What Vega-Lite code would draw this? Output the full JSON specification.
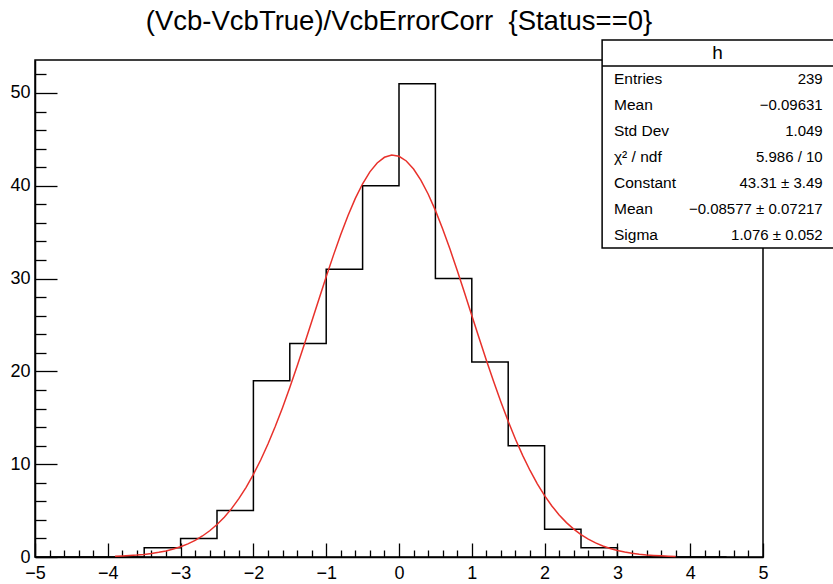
{
  "$schema": "https://vega.github.io/schema/vega-lite/v6.json",
  "width": 728,
  "height": 497,
  "autosize": {"type": "none"},
  "padding": {"left": 35, "top": 60, "right": 70, "bottom": 27},
  "background": "white",
  "title": {
    "text": "(Vcb-VcbTrue)/VcbErrorCorr \u00a0{Status==0}",
    "font": "Liberation Sans",
    "fontSize": 27.5,
    "fontWeight": "normal",
    "color": "black",
    "anchor": "middle",
    "offset": 4
  },
  "config": {
    "view": {"stroke": "black", "strokeWidth": 1.5},
    "axis": {
      "grid": false,
      "labelFont": "Liberation Sans",
      "labelFontSize": 18,
      "labelColor": "black",
      "labelFlush": false,
      "labelOverlap": false,
      "domainColor": "black",
      "domainWidth": 1.5,
      "tickColor": "black",
      "tickWidth": 1.3,
      "title": null
    }
  },
  "datasets": {
    "bins": [
      {"lo": -5.0, "hi": -4.5, "count": 0},
      {"lo": -4.5, "hi": -4.0, "count": 0},
      {"lo": -4.0, "hi": -3.5, "count": 0},
      {"lo": -3.5, "hi": -3.0, "count": 1},
      {"lo": -3.0, "hi": -2.5, "count": 2},
      {"lo": -2.5, "hi": -2.0, "count": 5},
      {"lo": -2.0, "hi": -1.5, "count": 19},
      {"lo": -1.5, "hi": -1.0, "count": 23},
      {"lo": -1.0, "hi": -0.5, "count": 31},
      {"lo": -0.5, "hi": 0.0, "count": 40},
      {"lo": 0.0, "hi": 0.5, "count": 51},
      {"lo": 0.5, "hi": 1.0, "count": 30},
      {"lo": 1.0, "hi": 1.5, "count": 21},
      {"lo": 1.5, "hi": 2.0, "count": 12},
      {"lo": 2.0, "hi": 2.5, "count": 3},
      {"lo": 2.5, "hi": 3.0, "count": 1},
      {"lo": 3.0, "hi": 3.5, "count": 0},
      {"lo": 3.5, "hi": 4.0, "count": 0},
      {"lo": 4.0, "hi": 4.5, "count": 0},
      {"lo": 4.5, "hi": 5.0, "count": 0}
    ],
    "fit": [
      {"x": -3.9, "f": 0.081}, {"x": -3.8, "f": 0.112}, {"x": -3.7, "f": 0.154},
      {"x": -3.6, "f": 0.209}, {"x": -3.5, "f": 0.282}, {"x": -3.4, "f": 0.377},
      {"x": -3.3, "f": 0.500}, {"x": -3.2, "f": 0.657}, {"x": -3.1, "f": 0.856},
      {"x": -3.0, "f": 1.106}, {"x": -2.9, "f": 1.416}, {"x": -2.8, "f": 1.798},
      {"x": -2.7, "f": 2.264}, {"x": -2.6, "f": 2.825}, {"x": -2.5, "f": 3.495},
      {"x": -2.4, "f": 4.286}, {"x": -2.3, "f": 5.212}, {"x": -2.2, "f": 6.285},
      {"x": -2.1, "f": 7.511}, {"x": -2.0, "f": 8.898}, {"x": -1.9, "f": 10.454},
      {"x": -1.8, "f": 12.175}, {"x": -1.7, "f": 14.056}, {"x": -1.6, "f": 16.090},
      {"x": -1.5, "f": 18.259}, {"x": -1.4, "f": 20.542}, {"x": -1.3, "f": 22.912},
      {"x": -1.2, "f": 25.337}, {"x": -1.1, "f": 27.775}, {"x": -1.0, "f": 30.187},
      {"x": -0.9, "f": 32.527}, {"x": -0.8, "f": 34.748}, {"x": -0.7, "f": 36.798},
      {"x": -0.6, "f": 38.636}, {"x": -0.5, "f": 40.217}, {"x": -0.4, "f": 41.502},
      {"x": -0.3, "f": 42.460}, {"x": -0.2, "f": 43.067}, {"x": -0.1, "f": 43.306},
      {"x": 0.0, "f": 43.173}, {"x": 0.1, "f": 42.669}, {"x": 0.2, "f": 41.809},
      {"x": 0.3, "f": 40.614}, {"x": 0.4, "f": 39.114}, {"x": 0.5, "f": 37.345},
      {"x": 0.6, "f": 35.350}, {"x": 0.7, "f": 33.173}, {"x": 0.8, "f": 30.863},
      {"x": 0.9, "f": 28.467}, {"x": 1.0, "f": 26.030}, {"x": 1.1, "f": 23.597},
      {"x": 1.2, "f": 21.209}, {"x": 1.3, "f": 18.898}, {"x": 1.4, "f": 16.694},
      {"x": 1.5, "f": 14.620}, {"x": 1.6, "f": 12.694}, {"x": 1.7, "f": 10.926},
      {"x": 1.8, "f": 9.323}, {"x": 1.9, "f": 7.889}, {"x": 2.0, "f": 6.617},
      {"x": 2.1, "f": 5.501}, {"x": 2.2, "f": 4.536}, {"x": 2.3, "f": 3.707},
      {"x": 2.4, "f": 3.004}, {"x": 2.5, "f": 2.413}, {"x": 2.6, "f": 1.922},
      {"x": 2.7, "f": 1.517}, {"x": 2.8, "f": 1.187}, {"x": 2.9, "f": 0.921},
      {"x": 3.0, "f": 0.709}, {"x": 3.1, "f": 0.540}, {"x": 3.2, "f": 0.409},
      {"x": 3.3, "f": 0.307}, {"x": 3.4, "f": 0.228}, {"x": 3.5, "f": 0.168},
      {"x": 3.6, "f": 0.123}, {"x": 3.7, "f": 0.089}, {"x": 3.8, "f": 0.064}
    ],
    "stats": [
      {"row": 1, "label": "Entries", "value": "239"},
      {"row": 2, "label": "Mean", "value": "\u22120.09631"},
      {"row": 3, "label": "Std Dev", "value": "1.049"},
      {"row": 4, "label": "\u03c7\u00b2 / ndf", "value": "5.986 / 10"},
      {"row": 5, "label": "Constant", "value": "43.31 \u00b1 3.49"},
      {"row": 6, "label": "Mean", "value": "\u22120.08577 \u00b1 0.07217"},
      {"row": 7, "label": "Sigma", "value": "1.076 \u00b1 0.052"}
    ],
    "header": [{"row": 0, "name": "h"}]
  },
  "resolve": {
    "scale": {"y": "independent"},
    "axis": {"x": "independent", "y": "independent"}
  },
  "layer": [
    {
      "data": {"name": "bins"},
      "mark": {"type": "line", "interpolate": "step-after", "color": "black", "strokeWidth": 1.5},
      "encoding": {
        "x": {
          "field": "lo", "type": "quantitative",
          "scale": {"domain": [-5, 5], "nice": false, "zero": false},
          "axis": {
            "orient": "bottom",
            "values": [-5, -4, -3, -2, -1, 0, 1, 2, 3, 4, 5],
            "tickSize": -14,
            "labelPadding": 21
          }
        },
        "y": {
          "field": "count", "type": "quantitative",
          "scale": {"domain": [0, 53.55], "nice": false, "zero": false},
          "axis": {
            "orient": "left",
            "values": [0, 10, 20, 30, 40, 50],
            "tickSize": -22,
            "labelPadding": 27
          }
        }
      }
    },
    {
      "data": {"name": "fit"},
      "mark": {"type": "line", "color": "#e8312b", "strokeWidth": 1.5},
      "encoding": {
        "x": {
          "field": "x", "type": "quantitative",
          "scale": {"domain": [-5, 5], "nice": false, "zero": false},
          "axis": {
            "orient": "bottom",
            "values": [-4.8, -4.6, -4.4, -4.2, -3.8, -3.6, -3.4, -3.2, -2.8, -2.6, -2.4, -2.2, -1.8, -1.6, -1.4, -1.2, -0.8, -0.6, -0.4, -0.2, 0.2, 0.4, 0.6, 0.8, 1.2, 1.4, 1.6, 1.8, 2.2, 2.4, 2.6, 2.8, 3.2, 3.4, 3.6, 3.8, 4.2, 4.4, 4.6, 4.8],
            "tickSize": -7,
            "labels": false,
            "domain": false
          }
        },
        "y": {
          "field": "f", "type": "quantitative",
          "scale": {"domain": [0, 53.55], "nice": false, "zero": false},
          "axis": {
            "orient": "left",
            "values": [2, 4, 6, 8, 12, 14, 16, 18, 22, 24, 26, 28, 32, 34, 36, 38, 42, 44, 46, 48, 52],
            "tickSize": -11,
            "labels": false,
            "domain": false
          }
        }
      }
    },
    {
      "data": {"name": "header"},
      "mark": {"type": "rect", "fill": "white", "stroke": "black", "strokeWidth": 1.5},
      "encoding": {
        "x": {"datum": 2.79, "type": "quantitative", "scale": {"domain": [-5, 5], "nice": false, "zero": false}, "axis": null},
        "x2": {"datum": 6.2},
        "y": {"datum": -0.5, "type": "quantitative", "scale": {"domain": [0.27, 19.385], "reverse": true, "nice": false, "zero": false}, "axis": null},
        "y2": {"datum": 7.5}
      }
    },
    {
      "data": {"name": "header"},
      "mark": {"type": "rule", "color": "black", "strokeWidth": 1.3},
      "encoding": {
        "x": {"datum": 2.79, "type": "quantitative", "scale": {"domain": [-5, 5], "nice": false, "zero": false}, "axis": null},
        "x2": {"datum": 6.2},
        "y": {"datum": 0.5, "type": "quantitative", "scale": {"domain": [0.27, 19.385], "reverse": true, "nice": false, "zero": false}, "axis": null}
      }
    },
    {
      "data": {"name": "header"},
      "mark": {"type": "text", "font": "Liberation Sans", "fontSize": 19, "color": "black", "align": "center", "baseline": "middle"},
      "encoding": {
        "x": {"datum": 4.375, "type": "quantitative", "scale": {"domain": [-5, 5], "nice": false, "zero": false}, "axis": null},
        "y": {"field": "row", "type": "quantitative", "scale": {"domain": [0.27, 19.385], "reverse": true, "nice": false, "zero": false}, "axis": null},
        "text": {"field": "name"}
      }
    },
    {
      "data": {"name": "stats"},
      "mark": {"type": "text", "font": "Liberation Sans", "fontSize": 15.5, "color": "black", "align": "left", "baseline": "middle"},
      "encoding": {
        "x": {"datum": 2.953, "type": "quantitative", "scale": {"domain": [-5, 5], "nice": false, "zero": false}, "axis": null},
        "y": {"field": "row", "type": "quantitative", "scale": {"domain": [0.27, 19.385], "reverse": true, "nice": false, "zero": false}, "axis": null},
        "text": {"field": "label"}
      }
    },
    {
      "data": {"name": "stats"},
      "mark": {"type": "text", "font": "Liberation Sans", "fontSize": 15, "color": "black", "align": "right", "baseline": "middle"},
      "encoding": {
        "x": {"datum": 5.82, "type": "quantitative", "scale": {"domain": [-5, 5], "nice": false, "zero": false}, "axis": null},
        "y": {"field": "row", "type": "quantitative", "scale": {"domain": [0.27, 19.385], "reverse": true, "nice": false, "zero": false}, "axis": null},
        "text": {"field": "value"}
      }
    }
  ]
}
